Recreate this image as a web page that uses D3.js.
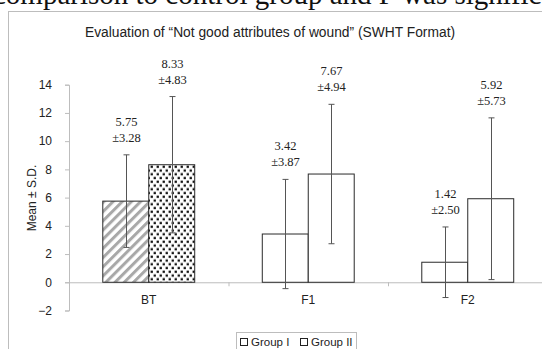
<!DOCTYPE html>
<html>
<head>
<meta charset="utf-8">
<script src="https://cdn.jsdelivr.net/npm/d3@7"></script>
<style>
  body { margin: 0; background: #fff; }
  svg { display: block; }
  .axis text { font-family: "Liberation Sans", Arial, sans-serif; font-size: 12px; fill: #222; }
  .axis path, .axis line { stroke: #bdbdbd; }
</style>
</head>
<body>
<svg id="chart" width="542" height="349"></svg>
<script>
// chart data
var categories = ['BT', 'F1', 'F2'];
var groups = ['Group I', 'Group II'];
var groupOne = [5.75, 3.42, 1.42];
var groupTwo = [8.33, 7.67, 5.92];
var sdOne = [3.28, 3.87, 2.50];
var sdTwo = [4.83, 4.94, 5.73];
var yTicks = [-2, 0, 2, 4, 6, 8, 10, 12, 14];

var svg = d3.select('#chart');
var font = '"Liberation Sans", Arial, sans-serif';

// leftover line of the page text above the figure (cut at the top, as in the scan)
svg.append('text')
    .attr('x', -7)
    .attr('y', 4)
    .attr('font-family', '"Liberation Serif", "Times New Roman", serif')
    .attr('font-size', 29)
    .attr('fill', '#111')
    .text('comparison to control group and F was significant');

// chart frame
svg.append('rect')
    .attr('x', 8.5).attr('y', 11.5)
    .attr('width', 560).attr('height', 360)
    .attr('fill', 'none')
    .attr('stroke', '#bdbdbd');

svg.append('text')
    .attr('x', 270).attr('y', 37)
    .attr('text-anchor', 'middle')
    .attr('font-family', font)
    .attr('font-size', 13.8)
    .attr('fill', '#222')
    .text('Evaluation of \u201CNot good attributes of wound\u201D (SWHT Format)');

// fill patterns
var defs = svg.append('defs');
var stripes = defs.append('pattern')
    .attr('id', 'stripes')
    .attr('patternUnits', 'userSpaceOnUse')
    .attr('width', 6.5).attr('height', 6.5)
    .attr('patternTransform', 'rotate(45)');
stripes.append('rect').attr('width', 6.5).attr('height', 6.5).attr('fill', '#fff');
stripes.append('rect').attr('width', 3).attr('height', 6.5).attr('fill', '#a8a8a8');

var dots = defs.append('pattern')
    .attr('id', 'dots')
    .attr('patternUnits', 'userSpaceOnUse')
    .attr('width', 6).attr('height', 7.5);
dots.append('rect').attr('width', 6).attr('height', 7.5).attr('fill', '#fff');
dots.append('rect').attr('x', 0.6).attr('y', 0.6).attr('width', 2.3).attr('height', 2.3).attr('fill', '#111');
dots.append('rect').attr('x', 3.6).attr('y', 4.4).attr('width', 2.3).attr('height', 2.3).attr('fill', '#111');

// scales
var x0 = d3.scaleBand().domain(categories).range([69, 547.5]);
var x1 = d3.scaleBand().domain(groups).range([0, x0.bandwidth()]).paddingOuter(0.735);
var y = d3.scaleLinear().domain([-2, 14]).range([310.5, 84.7]);

// axes
svg.append('g')
    .attr('class', 'axis')
    .attr('transform', 'translate(69,0)')
    .call(d3.axisLeft(y).tickValues(yTicks).tickSize(4).tickPadding(13));

var xAxis = svg.append('g')
    .attr('class', 'axis')
    .attr('transform', 'translate(0,' + y(0) + ')');
xAxis.append('line')
    .attr('x1', 65).attr('x2', 547.5)
    .attr('y1', 0.5).attr('y2', 0.5);
xAxis.selectAll('.cat-tick')
    .data(categories.slice(1))
    .enter().append('line')
    .attr('x1', function (d) { return x0(d) + 0.5; })
    .attr('x2', function (d) { return x0(d) + 0.5; })
    .attr('y1', 0).attr('y2', 4);
svg.selectAll('.cat-label')
    .data(categories)
    .enter().append('text')
    .attr('x', function (d) { return x0(d) + x0.bandwidth() / 2; })
    .attr('y', 304)
    .attr('text-anchor', 'middle')
    .attr('font-family', font)
    .attr('font-size', 12)
    .attr('fill', '#222')
    .text(function (d) { return d; });

svg.append('text')
    .attr('transform', 'translate(36,198) rotate(-90)')
    .attr('text-anchor', 'middle')
    .attr('font-family', font)
    .attr('font-size', 12)
    .attr('fill', '#222')
    .text('Mean \u00B1 S.D.');

// bars
var rows = [];
categories.forEach(function (c, i) {
    rows.push({cat: c, group: groups[0], value: groupOne[i], sd: sdOne[i]});
    rows.push({cat: c, group: groups[1], value: groupTwo[i], sd: sdTwo[i]});
});

function barFill(d) {
    if (d.cat === 'BT') return d.group === groups[0] ? 'url(#stripes)' : 'url(#dots)';
    return '#fff';
}

svg.selectAll('.bar')
    .data(rows)
    .enter().append('rect')
    .attr('class', 'bar')
    .attr('x', function (d) { return x0(d.cat) + x1(d.group); })
    .attr('y', function (d) { return y(d.value); })
    .attr('width', x1.bandwidth())
    .attr('height', function (d) { return y(0) - y(d.value); })
    .attr('fill', barFill)
    .attr('stroke', '#2a2a2a')
    .attr('stroke-width', 1);

// error bars
var ex = function (d) { return Math.round(x0(d.cat) + x1(d.group) + x1.bandwidth() / 2) + 0.5; };
var err = svg.selectAll('.err').data(rows).enter().append('g').attr('stroke', '#555');
err.append('line')
    .attr('x1', ex).attr('x2', ex)
    .attr('y1', function (d) { return y(d.value + d.sd); })
    .attr('y2', function (d) { return y(d.value - d.sd); });
[1, -1].forEach(function (s) {
    err.append('line')
        .attr('x1', function (d) { return ex(d) - 3; })
        .attr('x2', function (d) { return ex(d) + 3; })
        .attr('y1', function (d) { return y(d.value + s * d.sd); })
        .attr('y2', function (d) { return y(d.value + s * d.sd); });
});

// value labels
var lab = svg.selectAll('.lab').data(rows).enter().append('text')
    .attr('text-anchor', 'middle')
    .attr('font-family', '"Liberation Serif", "Times New Roman", serif')
    .attr('font-size', 12.5)
    .attr('fill', '#222');
lab.append('tspan')
    .attr('x', ex)
    .attr('y', function (d) { return y(d.value + d.sd) - 29; })
    .text(function (d) { return d.value.toFixed(2); });
lab.append('tspan')
    .attr('x', ex)
    .attr('y', function (d) { return y(d.value + d.sd) - 13; })
    .text(function (d) { return '\u00B1' + d.sd.toFixed(2); });

// legend
svg.append('rect')
    .attr('x', 236.5).attr('y', 332.5)
    .attr('width', 120).attr('height', 30)
    .attr('fill', '#fff')
    .attr('stroke', '#bdbdbd');
var leg = svg.selectAll('.leg').data(groups).enter().append('g')
    .attr('transform', function (d, i) { return 'translate(' + (240 + i * 60) + ',0)'; });
leg.append('rect')
    .attr('x', 0.5).attr('y', 338.5)
    .attr('width', 7).attr('height', 7)
    .attr('fill', '#fff')
    .attr('stroke', '#222');
leg.append('text')
    .attr('x', 11).attr('y', 346)
    .attr('font-family', font)
    .attr('font-size', 11.5)
    .attr('fill', '#222')
    .text(function (d) { return d; });
</script>
</body>
</html>
